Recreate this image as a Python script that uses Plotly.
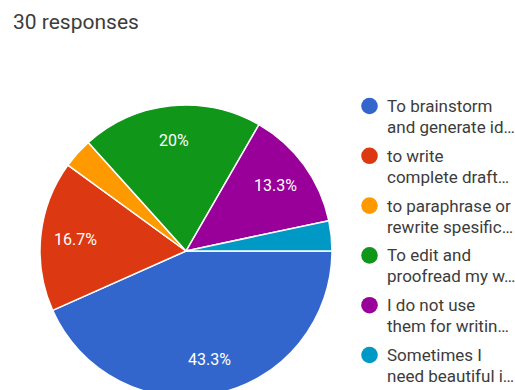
import math
import plotly.graph_objects as go

# Survey answers: how students use AI tools when writing
answers = [
    "To brainstorm and generate id…",
    "to write complete draft…",
    "to paraphrase or rewrite spesific…",
    "To edit and proofread my w…",
    "I do not use them for writin…",
    "Sometimes I need beautiful i…",
]
legend_line1 = ["To brainstorm", "to write", "to paraphrase or", "To edit and",
                "I do not use", "Sometimes I"]
legend_line2 = ["and generate id…", "complete draft…", "rewrite spesific…",
                "proofread my w…", "them for writin…", "need beautiful i…"]
counts = [13, 5, 1, 6, 4, 1]
colors = ["#3366CC", "#DC3912", "#FF9900", "#109618", "#990099", "#0099C6"]
title_text = "30 responses"

W, H = 515, 400
CX, CY, R = 186, 251, 146  # pie centre and radius in pixels


def px_x(x):
    return x / W


def px_y(y):
    return 1 - y / H


total = sum(counts)
pct = [c / total * 100 for c in counts]
labels_txt = [("%.1f" % p).rstrip("0").rstrip(".") + "%" for p in pct]

fig = go.Figure()
fig.add_trace(go.Pie(
    labels=answers,
    values=counts,
    sort=False,
    direction="clockwise",
    rotation=90,
    marker=dict(colors=colors, line=dict(color="white", width=1.5)),
    textinfo="none",
    hoverinfo="label+percent",
    showlegend=False,
    domain=dict(x=[px_x(CX - R), px_x(CX + R)], y=[px_y(CY + R), px_y(CY - R)]),
))

annotations = []
# percentage labels placed along each slice's middle angle
cum = 0
for c, txt, p in zip(counts, labels_txt, pct):
    mid = (cum + c / 2) / total * 2 * math.pi
    cum += c
    if p < 5:
        continue
    f = 0.76
    x = CX + R * f * math.cos(mid)
    y = CY + R * f * math.sin(mid)
    annotations.append(dict(
        x=px_x(x), y=px_y(y), xref="paper", yref="paper",
        text=txt, showarrow=False, xanchor="center", yanchor="middle",
        font=dict(family="Roboto", size=16, color="white"),
    ))

annotations.append(dict(
    x=px_x(11), y=px_y(22), xref="paper", yref="paper", text=title_text,
    showarrow=False, xanchor="left", yanchor="middle",
    font=dict(family="Roboto", size=21, color="#3c3c3c"),
))

shapes = []
LX, LY0, STEP, DOT = 369.5, 106, 49.8, 8.3
for i, (l1, l2, col) in enumerate(zip(legend_line1, legend_line2, colors)):
    cy = LY0 + i * STEP
    shapes.append(dict(
        type="circle", xref="paper", yref="paper",
        x0=px_x(LX - DOT), x1=px_x(LX + DOT), y0=px_y(cy + DOT), y1=px_y(cy - DOT),
        fillcolor=col, line=dict(width=0),
    ))
    for j, line in enumerate([l1, l2]):
        annotations.append(dict(
            x=px_x(385), y=px_y(cy + j * 21), xref="paper", yref="paper",
            text=line, showarrow=False, xanchor="left", yanchor="middle",
            font=dict(family="Roboto", size=17, color="#3c3c3c"),
        ))

fig.update_layout(
    width=W, height=H,
    margin=dict(l=0, r=0, t=0, b=0),
    paper_bgcolor="white",
    plot_bgcolor="white",
    annotations=annotations,
    shapes=shapes,
)

fig.write_html(
    "out.html",
    post_script="document.documentElement.style.overflow='hidden';"
                "document.body.style.overflow='hidden';"
                "document.body.style.margin='0';",
)
